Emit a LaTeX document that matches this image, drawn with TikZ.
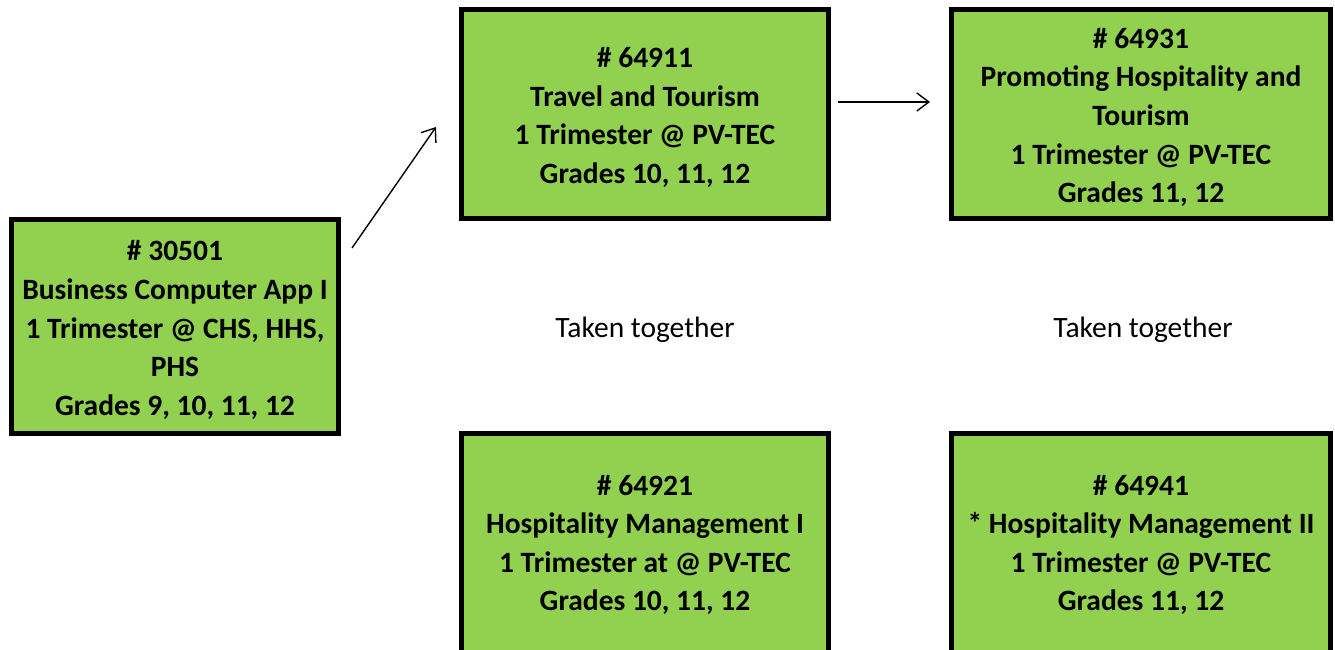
\documentclass[tikz,border=0pt]{standalone}
\usepackage{fontspec}
\setmainfont{Carlito}
\usetikzlibrary{arrows.meta}
\definecolor{boxgreen}{RGB}{146,208,80}
\begin{document}
\begin{tikzpicture}[x=1pt,y=-1pt,
  course/.style={draw=black, fill=boxgreen, line width=5pt, outer sep=0pt, inner sep=0pt},
  coursetext/.style={align=center, inner sep=0pt, yshift=-3.5pt,
    font=\fontsize{29.5}{38.6}\selectfont\bfseries},
  note/.style={font=\fontsize{29.5}{38.6}\selectfont, inner sep=0pt},
  link/.style={line width=1.4pt, -{Straight Barb[length=12pt,width=18pt,line width=1.4pt]}}]
\useasboundingbox[fill=white] (0,0) rectangle (1335,650);
\node[course, minimum width=327pt, minimum height=214pt,
  label={[coursetext]center:{\# 30501\\Business Computer App I\\1 Trimester @ CHS, HHS,\\PHS\\Grades 9, 10, 11, 12}}]
  (A) at (175,326.5) {};
\node[course, minimum width=367pt, minimum height=209pt,
  label={[coursetext]center:{\# 64911\\Travel and Tourism\\1 Trimester @ PV-TEC\\Grades 10, 11, 12}}]
  (B) at (645,114) {};
\node[course, minimum width=379pt, minimum height=209pt,
  label={[coursetext]center:{\# 64931\\Promoting Hospitality and\\Tourism\\1 Trimester @ PV-TEC\\Grades 11, 12}}]
  (C) at (1141,114) {};
\node[course, minimum width=367pt, minimum height=219pt,
  label={[coursetext, yshift=1.5pt]center:{\# 64921\\Hospitality Management I\\1 Trimester at @ PV-TEC\\Grades 10, 11, 12}}]
  (D) at (645,543) {};
\node[course, minimum width=379pt, minimum height=219pt,
  label={[coursetext, yshift=1.5pt]center:{\# 64941\\* Hospitality Management II\\1 Trimester @ PV-TEC\\Grades 11, 12}}]
  (E) at (1141,543) {};
\node[note] (T1) at (645,330) {Taken together};
\node[note] (T2) at (1143,330) {Taken together};
\draw[link] ([shift={(13.5,28.5)}]A.north east) -- ([shift={(-25.5,13)}]B.west);
\draw[link] ([shift={(9.5,-12)}]B.east) -- ([shift={(-21.5,-12)}]C.west);
\end{tikzpicture}
\end{document}
